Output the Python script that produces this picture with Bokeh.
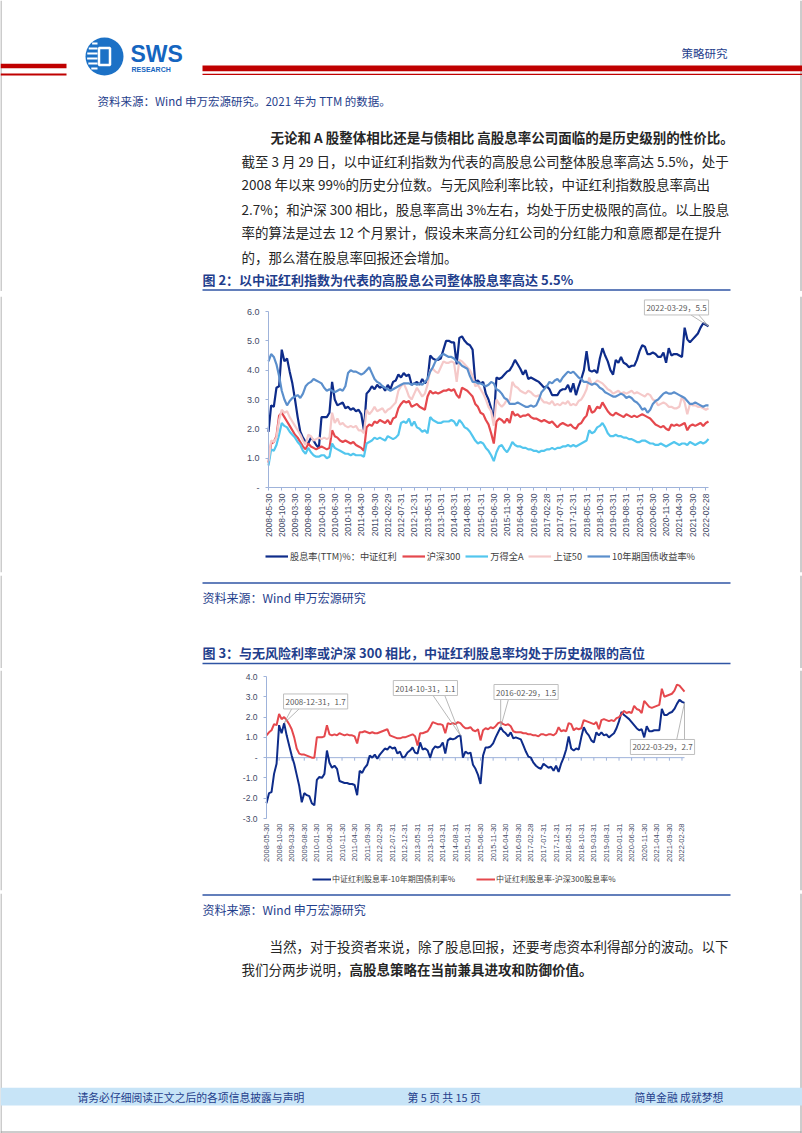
import math
from bokeh.plotting import figure
from bokeh.models import Range1d, FixedTicker, Legend, LegendItem, Label
from bokeh.layouts import column
from bokeh.embed import file_html
from bokeh.resources import INLINE
from bokeh.core.properties import value

# ---------------- data (monthly, 2008-05 .. 2022-03) ----------------
x_tick_labels = ["2008-05-30", "2008-10-30", "2009-03-30", "2009-08-30", "2010-01-30",
                 "2010-06-30", "2010-11-30", "2011-04-30", "2011-09-30", "2012-02-29",
                 "2012-07-31", "2012-12-31", "2013-05-31", "2013-10-31", "2014-03-31",
                 "2014-08-31", "2015-01-31", "2015-06-30", "2015-11-30", "2016-04-30",
                 "2016-09-30", "2017-02-28", "2017-07-31", "2017-12-31", "2018-05-31",
                 "2018-10-31", "2019-03-31", "2019-08-31", "2020-01-31", "2020-06-30",
                 "2020-11-30", "2021-04-30", "2021-09-30", "2022-02-28"]
x_tick_months = [0, 5, 10, 15, 20, 25, 30, 35, 40, 45, 50, 55, 60, 65, 70, 75, 80,
                 85, 90, 95, 100, 105, 110, 115, 120, 125, 130, 135, 140, 145, 150,
                 155, 160, 165]

div_csi = [1.90, 2.80, 2.75, 3.40, 3.45, 4.70, 4.30, 4.40,
           3.95, 3.55, 3.00, 2.40, 1.90, 1.70, 1.55, 1.50, 1.70, 1.60, 1.45, 1.35,
           2.40, 2.40, 2.40, 2.55, 3.60, 3.00, 2.80, 2.85, 2.90, 2.70, 2.75, 2.65,
           2.70, 2.60, 2.65, 2.50, 1.95, 3.20, 3.30, 3.45, 3.35, 3.50, 3.40, 3.45,
           3.30, 3.50, 3.35, 3.60, 3.65, 3.85, 3.75, 3.90, 3.80, 3.85, 3.50, 3.55,
           3.60, 3.50, 3.70, 3.55, 3.65, 4.50, 4.40, 4.35, 4.35, 4.40, 4.70, 5.00,
           5.00, 4.95, 4.95, 4.20, 5.10, 5.15, 5.00, 4.90, 4.85, 4.70, 3.60, 3.65,
           3.55, 3.60, 3.20, 3.00, 2.70, 2.30, 3.75, 3.70, 3.75, 3.85, 3.95, 4.00,
           4.15, 4.35, 4.20, 4.05, 3.85, 4.00, 3.70, 3.75, 3.70, 3.65, 3.60, 3.50,
           3.40, 3.45, 3.35, 3.15, 3.15, 3.15, 3.30, 3.35, 3.35, 3.50, 3.25, 3.55,
           3.15, 3.45, 3.70, 4.00, 4.65, 4.00, 3.95, 4.00, 3.90, 4.40, 4.75, 4.50,
           4.30, 4.00, 3.85, 4.35, 4.25, 4.45, 4.25, 4.20, 4.10, 4.15, 4.15, 4.35,
           4.65, 4.85, 4.80, 4.55, 4.55, 4.60, 4.55, 4.45, 4.45, 4.60, 4.25, 4.75,
           4.50, 4.55, 4.55, 4.50, 4.45, 5.45, 5.05, 4.95, 5.05, 5.15, 5.25, 5.45,
           5.60, 5.55, 5.50]

div_hs300 = [0.85, 1.50, 1.55, 1.75, 2.45, 2.55, 2.40, 2.25,
             2.10, 1.95, 1.80, 1.70, 1.55, 1.40, 1.30, 1.50, 1.40, 1.35, 1.30, 1.35,
             1.40, 1.35, 1.30, 1.35, 1.95, 1.75, 1.70, 1.60, 1.55, 1.60, 1.55, 1.50,
             1.55, 1.45, 1.40, 1.35, 1.25, 2.05, 2.15, 2.10, 2.25, 2.20, 2.30, 2.25,
             2.20, 2.30, 2.15, 2.35, 2.40, 2.70, 2.85, 2.95, 2.90, 2.95, 2.75, 2.80,
             2.85, 2.75, 2.70, 2.65, 3.10, 3.30, 3.20, 3.25, 3.20, 3.25, 3.30, 3.30,
             3.35, 3.30, 3.35, 3.15, 3.05, 3.40, 3.35, 3.30, 3.20, 3.10, 2.85, 2.75,
             2.55, 2.50, 2.30, 2.15, 1.85, 1.50, 2.25, 2.35, 2.30, 2.20, 2.35, 2.20,
             2.60, 2.45, 2.50, 2.40, 2.45, 2.45, 2.50, 2.40, 2.35, 2.35, 2.30, 2.25,
             2.30, 2.25, 2.20, 2.25, 2.15, 2.05, 2.15, 2.20, 2.15, 2.10, 2.15, 2.05,
             2.00, 2.15, 2.20, 2.35, 2.45, 2.80, 2.55, 2.60, 2.75, 2.70, 2.90, 2.75,
             2.60, 2.50, 2.45, 2.55, 2.50, 2.45, 2.40, 2.50, 2.45, 2.40, 2.45, 2.40,
             2.45, 2.50, 2.45, 2.40, 2.35, 2.25, 2.15, 2.10, 2.05, 2.10, 2.00, 1.95,
             2.15, 2.10, 2.15, 2.10, 2.15, 2.20, 1.95, 2.10, 2.15, 2.10, 2.15, 2.20,
             2.10, 2.20, 2.25]

div_wind_a = [0.75, 1.30, 1.25, 1.45, 1.80, 2.20, 2.10, 2.05,
              1.90, 1.80, 1.70, 1.55, 1.45, 1.25, 1.15, 1.35, 1.20, 1.10, 1.05, 1.05,
              1.10, 1.10, 1.00, 1.05, 1.50, 1.35, 1.30, 1.25, 1.20, 1.15, 1.15, 1.10,
              1.15, 1.10, 1.10, 1.10, 1.05, 1.50, 1.55, 1.60, 1.70, 1.65, 1.70, 1.65,
              1.60, 1.75, 1.70, 1.65, 1.70, 1.80, 2.20, 2.25, 2.20, 2.35, 2.10, 2.25,
              2.05, 2.00, 1.90, 1.95, 1.85, 2.40, 2.30, 2.25, 2.20, 2.20, 2.25, 2.25,
              2.25, 2.30, 2.25, 2.10, 2.30, 2.20, 2.05, 2.00, 1.90, 1.75, 1.60, 1.50,
              1.55, 1.50, 1.35, 1.25, 1.10, 0.90, 1.20, 1.40, 1.45, 1.30, 1.20, 1.35,
              1.55, 1.45, 1.40, 1.40, 1.35, 1.35, 1.30, 1.30, 1.25, 1.25, 1.20, 1.25,
              1.25, 1.30, 1.30, 1.35, 1.30, 1.35, 1.35, 1.40, 1.40, 1.45, 1.40, 1.45,
              1.40, 1.45, 1.50, 1.55, 1.60, 1.95, 1.85, 1.90, 2.05, 2.10, 2.20, 2.05,
              1.85, 1.75, 1.75, 1.80, 1.75, 1.75, 1.70, 1.70, 1.65, 1.65, 1.60, 1.55,
              1.55, 1.60, 1.60, 1.55, 1.50, 1.50, 1.45, 1.45, 1.50, 1.45, 1.40, 1.45,
              1.50, 1.55, 1.50, 1.45, 1.50, 1.50, 1.45, 1.55, 1.50, 1.45, 1.50, 1.55,
              1.50, 1.55, 1.65]

div_sz50 = [0.90, 1.60, 1.55, 1.70, 2.30, 2.65, 2.55, 2.60,
            2.40, 2.25, 2.10, 1.95, 1.80, 1.60, 1.45, 1.80, 1.75, 1.60, 1.65, 1.70,
            1.65, 1.70, 1.65, 1.70, 2.55, 2.20, 2.35, 2.15, 2.20, 2.10, 2.05, 2.10,
            2.05, 2.10, 1.95, 1.95, 1.85, 2.65, 2.50, 2.60, 2.75, 2.60, 2.65, 2.70,
            2.55, 2.65, 2.70, 2.80, 2.90, 3.30, 3.45, 3.55, 3.35, 3.10, 3.00, 3.20,
            3.40, 3.25, 3.10, 3.20, 3.50, 4.00, 4.05, 3.95, 3.90, 4.10, 4.30, 4.25,
            4.25, 4.30, 4.25, 3.60, 4.35, 4.30, 4.20, 4.10, 4.00, 3.80, 3.45, 3.50,
            3.35, 3.20, 3.00, 2.75, 2.60, 2.10, 3.00, 2.85, 2.75, 2.85, 3.00, 2.95,
            3.60, 3.45, 3.40, 3.30, 3.25, 3.20, 3.30, 3.25, 3.15, 3.10, 3.15, 3.00,
            2.90, 2.90, 2.85, 2.95, 2.80, 2.85, 2.80, 2.90, 2.85, 2.95, 2.80, 2.85,
            2.80, 2.95, 3.00, 3.15, 3.35, 3.75, 3.50, 3.55, 3.65, 3.60, 3.55, 3.45,
            3.35, 3.30, 3.20, 3.25, 3.30, 3.20, 3.25, 3.20, 3.25, 3.30, 3.20, 3.25,
            3.20, 3.15, 3.10, 3.20, 3.15, 3.00, 2.95, 2.80, 2.85, 2.90, 2.85, 2.75,
            2.75, 2.70, 2.70, 2.75, 3.10, 2.90, 2.50, 2.85, 2.80, 2.80, 2.75, 2.75,
            2.70, 2.65, 2.70]

cgb_10y = [4.30, 4.55, 4.45, 4.20, 3.80, 3.30, 3.00, 2.80,
           2.95, 3.05, 3.10, 3.15, 3.05, 3.20, 3.45, 3.55, 3.60, 3.70, 3.65, 3.60,
           3.55, 3.40, 3.30, 3.35, 3.30, 3.25, 3.30, 3.35, 3.30, 3.45, 3.90, 4.00,
           3.95, 3.95, 3.90, 3.85, 3.90, 4.00, 4.10, 3.90, 3.70, 3.60, 3.55, 3.45,
           3.40, 3.35, 3.30, 3.35, 3.40, 3.45, 3.50, 3.55, 3.55, 3.55, 3.50, 3.55,
           3.50, 3.55, 3.50, 3.60, 3.70, 3.95, 4.10, 4.30, 4.40, 4.50, 4.55, 4.50,
           4.45, 4.45, 4.40, 4.30, 4.25, 4.15, 4.10, 4.05, 3.80, 3.60, 3.60, 3.55,
           3.55, 3.50, 3.45, 3.50, 3.60, 3.55, 3.35, 3.30, 3.20, 3.05, 3.00, 2.85,
           2.85, 2.85, 2.90, 2.85, 2.80, 2.75, 2.75, 2.80, 2.75, 2.80, 3.00, 3.25,
           3.35, 3.45, 3.60, 3.55, 3.65, 3.70, 3.60, 3.75, 3.85, 3.95, 3.90, 3.95,
           3.85, 3.75, 3.70, 3.60, 3.60, 3.55, 3.50, 3.55, 3.50, 3.40, 3.35, 3.25,
           3.20, 3.15, 3.10, 3.10, 3.15, 3.20, 3.15, 3.05, 3.10, 3.05, 2.95, 2.90,
           2.80, 2.65, 2.70, 2.55, 2.65, 2.85, 2.95, 3.00, 3.10, 3.20, 3.25, 3.20,
           3.20, 3.25, 3.20, 3.15, 3.10, 3.05, 2.95, 2.85, 2.85, 2.90, 2.85, 2.80,
           2.75, 2.80, 2.80]

spread_cgb = [-2.25, -1.75, -1.70, -0.80, -0.30, 1.60, 1.20, 1.70,
              1.10, 0.60, 0.10, -0.30, -0.85, -1.40, -2.20, -1.75, -1.85, -1.90, -2.25, -2.35,
              -1.10, -0.95, -1.00, -0.80, 0.35, -0.25, -0.50, -0.40, -0.55, -1.15, -1.20, -1.25,
              -1.25, -1.30, -1.30, -1.35, -1.85, -0.65, -0.75, -0.50, -0.35, 0.10, 0.00, 0.15,
              -0.05, 0.15, 0.30, 0.45, 0.40, 0.55, 0.45, 0.50, 0.20, 0.30, 0.00, 0.05,
              0.25, 0.35, 0.50, 0.25, 0.20, 0.75, 0.40, 0.45, 0.35, 0.00, 0.40, 0.55,
              0.50, 0.55, 0.75, 0.20, 0.85, 0.95, 0.90, 0.95, 1.05, 1.10, 0.00, 0.30,
              0.20, 0.25, -0.35, -0.55, -0.85, -1.30, 0.10, 0.50, 0.50, 0.55, 0.70, 1.00,
              1.25, 1.50, 1.30, 1.20, 1.05, 1.25, 0.95, 1.00, 0.95, 0.90, 0.60, 0.30,
              0.05, 0.00, -0.25, -0.40, -0.50, -0.55, -0.30, -0.40, -0.50, -0.45, -0.65, -0.40,
              -0.70, -0.30, 0.00, 0.40, 1.05, 0.45, 0.35, 0.45, 0.40, 1.00, 1.50, 1.25,
              1.10, 0.85, 0.75, 1.25, 1.10, 1.25, 1.10, 1.15, 1.00, 1.10, 1.20, 1.45,
              1.80, 2.25, 2.10, 2.00, 1.90, 1.75, 1.60, 1.45, 1.35, 1.40, 1.00, 1.55,
              1.30, 1.30, 1.35, 1.35, 1.35, 2.40, 2.10, 2.10, 2.20, 2.25, 2.40, 2.65,
              2.85, 2.75, 2.70]

spread_hs300 = [1.10, 1.25, 1.35, 1.65, 1.60, 2.15, 1.90, 2.00,
                1.85, 1.65, 1.40, 1.00, 0.45, 0.20, 0.15, 0.15, 0.10, 0.05, 0.00, 0.00,
                1.00, 1.00, 1.00, 1.05, 1.60, 1.15, 1.10, 1.15, 1.10, 1.20, 1.15, 1.10,
                1.15, 1.10, 1.10, 1.05, 0.70, 1.25, 1.25, 1.30, 1.25, 1.20, 1.25, 1.20,
                1.20, 1.25, 1.30, 1.35, 1.40, 1.10, 1.05, 1.00, 0.95, 0.95, 1.00, 1.00,
                1.05, 1.10, 1.15, 1.05, 0.60, 1.20, 1.20, 1.25, 1.30, 1.50, 1.75, 1.70,
                1.65, 1.65, 1.60, 1.20, 1.70, 1.65, 1.70, 1.65, 1.75, 1.70, 1.55, 1.45,
                1.45, 1.50, 1.35, 1.30, 1.40, 0.85, 1.35, 1.45, 1.40, 1.50, 1.45, 1.55,
                1.70, 1.75, 1.65, 1.60, 1.65, 1.55, 1.30, 1.25, 1.25, 1.25, 1.20, 1.20,
                1.15, 1.15, 1.10, 1.10, 1.05, 1.15, 1.15, 1.10, 1.15, 1.15, 1.10, 1.20,
                1.50, 1.30, 1.35, 1.30, 1.70, 1.65, 1.35, 1.45, 1.40, 1.45, 1.85, 1.80,
                1.75, 1.70, 1.65, 1.75, 1.40, 1.85, 1.90, 1.85, 1.80, 1.85, 1.80, 1.95,
                2.00, 2.15, 2.30, 2.20, 2.25, 2.20, 2.55, 2.40, 2.35, 2.20, 2.80, 2.65,
                2.50, 2.45, 2.50, 2.55, 2.60, 3.40, 3.00, 3.05, 3.10, 3.15, 3.30, 3.60,
                3.55, 3.40, 3.25]

for s in (div_csi, div_hs300, div_wind_a, div_sz50, cgb_10y, spread_cgb, spread_hs300):
    assert len(s) == 167, len(s)
months = list(range(len(div_csi)))

y2_ticks = [0, 1, 2, 3, 4, 5, 6]
y2_labels = ["-", "1.0", "2.0", "3.0", "4.0", "5.0", "6.0"]
y3_ticks = [-3, -2, -1, 0, 1, 2, 3, 4]
y3_labels = ["-3.0", "-2.0", "-1.0", "-", "1.0", "2.0", "3.0", "4.0"]

series2_names = ["股息率(TTM)%：中证红利", "沪深300", "万得全A", "上证50", "10年期国债收益率%"]
series3_names = ["中证红利股息率-10年期国债利率%", "中证红利股息率-沪深300股息率%"]

# annotations: (month index, value, label text)
ann2 = [(166, 5.5, "2022-03-29，5.5")]
ann3 = [(7, 1.7, "2008-12-31，1.7"), (77, 1.1, "2014-10-31，1.1"),
        (93, 1.5, "2016-02-29，1.5"), (166, 2.7, "2022-03-29，2.7")]

# ---------------- styling ----------------
CJK = "Noto Sans CJK SC"
LAT = "Liberation Sans"
NAVY = "#1F3E8C"
RULE = "#2F55A4"
AXIS = "#9FB3DA"
TICKTXT = "#3F4A66"
EDGE = "#9A9A9A"
C_CSI = "#0E2C8A"
C_HS = "#E5484D"
C_WA = "#52C6EE"
C_SZ = "#F5C9C9"
C_10Y = "#5B8FCC"
W = 802


def static_fig(h):
    f = figure(width=W, height=h, x_range=Range1d(0, W), y_range=Range1d(h, 0),
               output_backend="svg", toolbar_location=None, min_border=0,
               x_axis_location=None, y_axis_location=None, frame_align=False)
    f.xgrid.visible = False
    f.ygrid.visible = False
    f.outline_line_color = None
    f.background_fill_color = "white"
    f.border_fill_color = "white"
    # page edge lines of the scanned page
    f.segment(x0=[0.5, 800.5], y0=[0, 0], x1=[0.5, 800.5], y1=[h, h], line_color=EDGE, line_width=1)
    return f


def put(f, x, y, s, size, color="#262626", bold=False, font=CJK, align="left"):
    f.text(x=[x], y=[y], text=[s], text_font=value(font), text_font_size=f"{size}px",
           text_color=color, text_align=align, text_baseline="middle",
           text_font_style="bold" if bold else "normal")


def hrule(f, x0, x1, y, color=RULE, w=1.5):
    f.segment(x0=[x0], y0=[y], x1=[x1], y1=[y], line_color=color, line_width=w)


def chart_fig(h, x0_px, ppx, y_lo, y_hi, top, bottom):
    p = figure(width=W, height=h, x_range=Range1d(-x0_px / ppx, (W - x0_px) / ppx),
               y_range=Range1d(y_lo, y_hi), output_backend="svg", toolbar_location=None,
               frame_align=False, min_border_left=0, min_border_right=0,
               min_border_top=top, min_border_bottom=bottom)
    # page edge lines
    p.segment(x0=[(0.5 - x0_px) / ppx, (800.5 - x0_px) / ppx], y0=[y_lo, y_lo],
              x1=[(0.5 - x0_px) / ppx, (800.5 - x0_px) / ppx], y1=[y_hi, y_hi],
              line_color=EDGE, line_width=1)
    return p


def style_axes(p, yt, yl, lab_size, ylab_size, x_at):
    p.xgrid.visible = False
    p.ygrid.visible = False
    p.outline_line_color = None
    p.yaxis.ticker = FixedTicker(ticks=yt)
    p.yaxis.major_label_overrides = {t: l for t, l in zip(yt, yl)}
    p.yaxis.bounds = (yt[0], yt[-1])
    p.yaxis.fixed_location = months[0]
    p.xaxis.ticker = FixedTicker(ticks=x_tick_months)
    p.xaxis.major_label_overrides = {t: l for t, l in zip(x_tick_months, x_tick_labels)}
    p.xaxis.major_label_orientation = math.pi / 2
    p.xaxis.bounds = (months[0], months[-1])
    p.xaxis.fixed_location = x_at
    for ax in (p.xaxis, p.yaxis):
        ax.axis_line_color = AXIS
        ax.major_tick_line_color = AXIS
        ax.minor_tick_line_color = None
        ax.major_tick_in = 0
        ax.major_tick_out = 3
        ax.major_label_text_font = LAT
        ax.major_label_text_color = TICKTXT
    p.xaxis.major_label_text_font_size = f"{lab_size}px"
    p.yaxis.major_label_text_font_size = f"{ylab_size}px"
    p.xaxis.major_label_standoff = 3
    p.yaxis.major_label_standoff = 6


def callout(p, xm, yv, text, dx, dy, base, ppx, ppy, size):
    p.add_layout(Label(x=xm, y=yv, text=text, x_offset=dx, y_offset=dy,
                       text_align="center", text_baseline="middle",
                       text_font=CJK, text_font_size=f"{size}px", text_color="#595959",
                       background_fill_color="white", border_line_color="#BFBFBF",
                       border_line_width=1, padding=2))
    for bx, by in base:
        p.line([xm + bx / ppx, xm], [yv + by / ppy, yv], line_color="#A6A6A6", line_width=0.8)


# ---------------- segment A (page y 0-291): header + text + chart 2 title ----------------
A = static_fig(291)
RED = "#C00000"
A.quad(left=[0], right=[66], top=[63.3], bottom=[67.8], fill_color=RED, line_color=None)
A.quad(left=[0], right=[66], top=[73.0], bottom=[75.0], fill_color=RED, line_color=None)
A.quad(left=[202], right=[802], top=[65.0], bottom=[70.7], fill_color=RED, line_color=None)
A.quad(left=[202], right=[802], top=[73.2], bottom=[74.6], fill_color=RED, line_color=None)
# logo
A.circle(x=[104], y=[56], radius=19, fill_color="#1C71C6", line_color=None)
for dy in (-13, -8, -3, 2, 7, 12):
    half = math.sqrt(19 ** 2 - dy ** 2)
    A.segment(x0=[104 - half + 1.5], y0=[56 + dy], x1=[97], y1=[56 + dy],
              line_color="white", line_width=2.2)
A.rect(x=[104], y=[56], width=11, height=17, fill_color=None, line_color="white", line_width=2.5)
put(A, 130, 53.5, "SWS", 23, color="#1565C0", bold=True, font=LAT)
put(A, 131, 69, "RESEARCH", 7, color="#1565C0", bold=True, font=LAT)
put(A, 681, 52, "策略研究", 11.5, color=NAVY)
put(A, 97, 100, "资料来源：Wind  申万宏源研究。2021 年为 TTM 的数据。", 11.5, color=NAVY)

para = ["截至 3 月 29 日，以中证红利指数为代表的高股息公司整体股息率高达 5.5%，处于",
        "2008  年以来  99%的历史分位数。与无风险利率比较，中证红利指数股息率高出",
        "2.7%；和沪深 300 相比，股息率高出 3%左右，均处于历史极限的高位。以上股息",
        "率的算法是过去  12  个月累计，假设未来高分红公司的分红能力和意愿都是在提升",
        "的，那么潜在股息率回报还会增加。"]
para_y = [160, 183.5, 208.3, 231.8, 256.7]
put(A, 270, 136.7, "无论和 A 股整体相比还是与债相比 高股息率公司面临的是历史级别的性价比。",
    13.5, bold=True)
for line, yy in zip(para, para_y):
    put(A, 241, yy, line, 13.5)
put(A, 202, 279, "图 2：以中证红利指数为代表的高股息公司整体股息率高达 5.5%", 13, color=NAVY, bold=True)
hrule(A, 202, 730, 289.5)

# ---------------- segment B (291-575): chart 2 ----------------
# frame spans page y 296..572 and x 0..802; month 0 at page x 268, value 0 at page y 487
PPY2 = 176 / 6
PPX2 = 440 / 166
p2 = chart_fig(284, 268, PPX2, -(572 - 487) / PPY2, (487 - 296) / PPY2, 5, 3)
style_axes(p2, y2_ticks, y2_labels, 8.5, 9, 0)
r_csi = p2.line(months, div_csi, line_color=C_CSI, line_width=2.2)
r_hs = p2.line(months, div_hs300, line_color=C_HS, line_width=2.2)
r_wa = p2.line(months, div_wind_a, line_color=C_WA, line_width=2.2)
r_sz = p2.line(months, div_sz50, line_color=C_SZ, line_width=2.2)
r_10 = p2.line(months, cgb_10y, line_color=C_10Y, line_width=2.2)
leg2 = Legend(items=[LegendItem(label=n, renderers=[r]) for n, r in
                     zip(series2_names, [r_csi, r_hs, r_wa, r_sz, r_10])],
              orientation="horizontal", location=(265, 9),
              label_text_font=CJK, label_text_font_size="9.2px", label_text_color="#404040",
              glyph_width=23, glyph_height=10, label_height=12, label_standoff=2, spacing=5,
              padding=0, margin=0, border_line_color=None, background_fill_alpha=0)
p2.add_layout(leg2)
for xm, yv, t in ann2:
    callout(p2, xm, yv, t, -32, 18.7, [(-18, 11.5), (-10, 11.5)], PPX2, PPY2, 8)

# ---------------- segment C (575-668): source + chart 3 title ----------------
C = static_fig(93)
hrule(C, 202, 730, 7.5)
put(C, 202, 22, "资料来源：Wind  申万宏源研究", 12, color=NAVY)
put(C, 202, 77, "图 3：与无风险利率或沪深 300 相比，中证红利股息率均处于历史极限的高位", 13,
    color=NAVY, bold=True)
hrule(C, 202, 730, 88)

# ---------------- segment D (668-893): chart 3 ----------------
# frame spans page y 670..890 ; value 4 at 676, value -3 at 818; month 0 at page x 266
PPX3 = 418 / 166
PPY3 = 142 / 7
p3 = chart_fig(225, 266, PPX3, -3 - (890 - 818) / PPY3, 4 + (676 - 670) / PPY3, 2, 3)
style_axes(p3, y3_ticks, y3_labels, 7.5, 8.5, -3)
p3.xaxis.axis_line_color = None
p3.xaxis.major_tick_line_color = None
p3.xaxis.major_tick_out = 0
p3.xaxis.major_label_standoff = 5
p3.segment(x0=[months[0]], y0=[0], x1=[months[-1]], y1=[0], line_color=AXIS, line_width=1)
p3.segment(x0=x_tick_months, y0=[0] * len(x_tick_months), x1=x_tick_months,
           y1=[-0.15] * len(x_tick_months), line_color=AXIS, line_width=1)
r_s1 = p3.line(months, spread_cgb, line_color=C_CSI, line_width=2.0)
r_s2 = p3.line(months, spread_hs300, line_color=C_HS, line_width=2.0)
leg3 = Legend(items=[LegendItem(label=n, renderers=[r]) for n, r in
                     zip(series3_names, [r_s1, r_s2])],
              orientation="horizontal", location=(312, 6),
              label_text_font=CJK, label_text_font_size="8px", label_text_color="#404040",
              glyph_width=19, glyph_height=10, label_height=10, label_standoff=1, spacing=21,
              padding=0, margin=0, border_line_color=None, background_fill_alpha=0)
p3.add_layout(leg3)
offs3 = [(31.5, 21.7, [(8, 15.2), (16, 15.2)]),
         (-35, 47.3, [(-28, 40.8), (-16, 40.8)]),
         (25.4, 35.2, [(0, 28.7), (8, 28.7)]),
         (-22, -44.1, [(-8, -37.6), (0, -37.6)])]
for (xm, yv, t), (dx, dy, base) in zip(ann3, offs3):
    callout(p3, xm, yv, t, dx, dy, base, PPX3, PPY3, 8)

# ---------------- segment E (893-1133): source, text, footer ----------------
E = static_fig(240)
hrule(E, 202, 730, 1.5)
put(E, 202, 16, "资料来源：Wind  申万宏源研究", 12, color=NAVY)
put(E, 269, 52.7, "当然，对于投资者来说，除了股息回报，还要考虑资本利得部分的波动。以下", 13.5)
put(E, 241, 75.3, "我们分两步说明，", 13.5)
put(E, 349, 75.3, "高股息策略在当前兼具进攻和防御价值。", 13.5, bold=True)
E.quad(left=[0], right=[802], top=[194.3], bottom=[212], fill_color="#C7E4F7", line_color=None)
put(E, 77, 203, "请务必仔细阅读正文之后的各项信息披露与声明", 10.8, color=NAVY)
put(E, 407, 203, "第 5 页 共 15 页", 10.8, color=NAVY)
put(E, 634, 203, "简单金融 成就梦想", 10.8, color=NAVY)
hrule(E, 0, 801, 238.5, color=EDGE, w=1)

page = column(A, p2, C, p3, E, spacing=0)
open("out.html", "w").write(file_html(page, INLINE))
